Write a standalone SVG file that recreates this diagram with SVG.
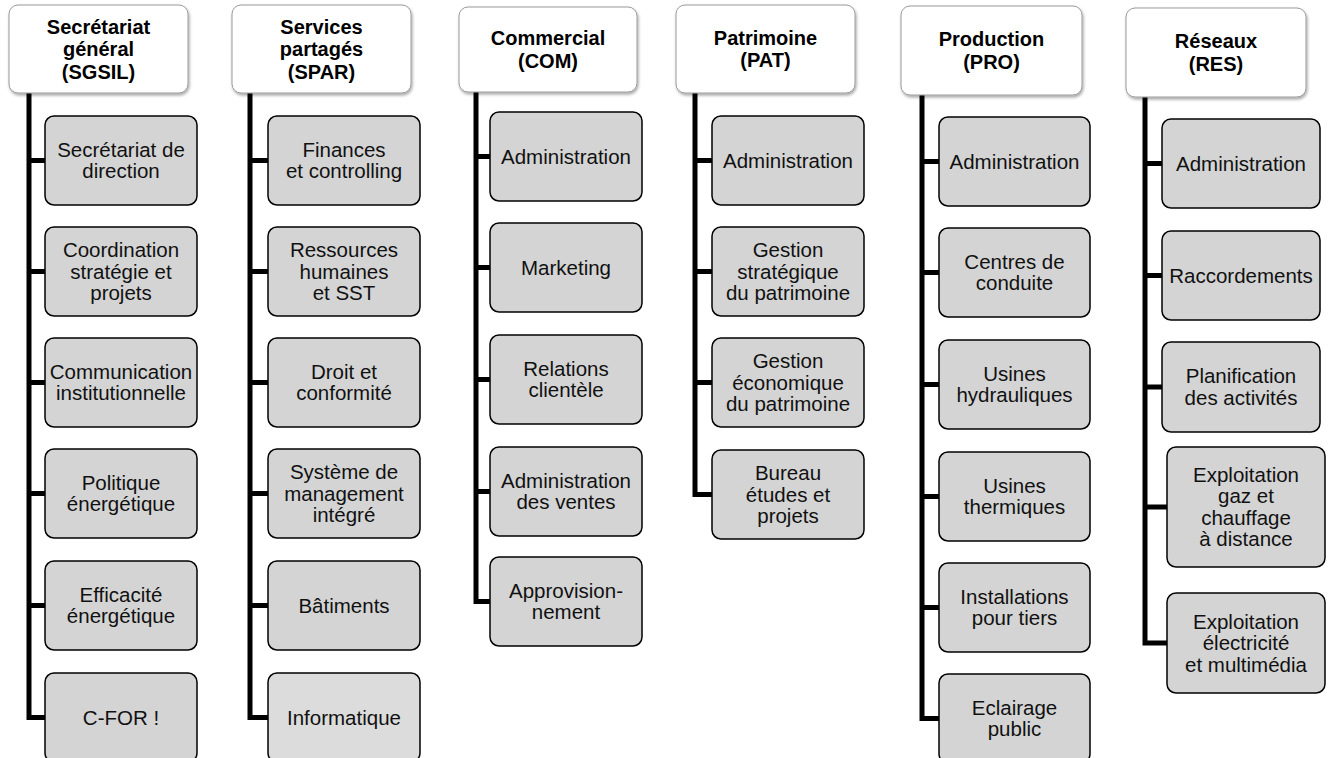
<svg xmlns="http://www.w3.org/2000/svg" width="1341" height="758" viewBox="0 0 1341 758">
<style>
.hdr{fill:#ffffff;stroke:#9a9a9a;stroke-width:1;filter:url(#sh)}
.box{fill:#d4d4d4;stroke:#000;stroke-width:1.5}
.box.lt{fill:#dcdcdc}
.h{font-family:"Liberation Sans",Arial,sans-serif;font-weight:bold;font-size:20px;fill:#000;text-anchor:middle}
.t{font-family:"Liberation Sans",Arial,sans-serif;font-size:20.5px;fill:#111;text-anchor:middle}
.c{fill:none;stroke:#000;stroke-width:5;stroke-linejoin:miter;stroke-linecap:butt}
</style>
<defs>
<filter id="sh" x="-10%" y="-10%" width="125%" height="130%">
<feDropShadow dx="1" dy="2" stdDeviation="1.6" flood-color="#000" flood-opacity="0.35"/>
</filter>
</defs>
<rect width="1341" height="758" fill="#fff"/>
<g id="connectors">
<path class="c" d="M29,93 V717.5 H45 M29,160.5 H45 M29,271.5 H45 M29,382.5 H45 M29,493.5 H45 M29,605.5 H45"/>
<path class="c" d="M250,93 V717.5 H268 M250,160.5 H268 M250,271.5 H268 M250,382.5 H268 M250,493.5 H268 M250,605.5 H268"/>
<path class="c" d="M476,92 V601.5 H490 M476,156.5 H490 M476,267.5 H490 M476,379.5 H490 M476,491.5 H490"/>
<path class="c" d="M695,93 V494.5 H712 M695,160.5 H712 M695,271.5 H712 M695,382.5 H712"/>
<path class="c" d="M922,95 V718.5 H939 M922,161.5 H939 M922,272.5 H939 M922,384.5 H939 M922,496.5 H939 M922,607.5 H939"/>
<path class="c" d="M1145,97 V643 H1167 M1145,163.5 H1162 M1145,275.5 H1162 M1145,387 H1162 M1145,507 H1167"/>
</g>

<!-- Column 1 SGSIL -->
<g id="sgsil"><rect class="hdr" x="9" y="5" width="179" height="88" rx="9"/>
<text class="h" x="98.5" y="33.5">Secrétariat</text><text class="h" x="98.5" y="56">général</text><text class="h" x="98.5" y="78.5">(SGSIL)</text></g>
<g id="sgsil-1"><rect class="box" x="45" y="116" width="152" height="89" rx="9"/>
<text class="t" x="121" y="156.8">Secrétariat de</text><text class="t" x="121" y="178.3">direction</text></g>
<g id="sgsil-2"><rect class="box" x="45" y="227" width="152" height="89" rx="9"/>
<text class="t" x="121" y="257">Coordination</text><text class="t" x="121" y="278.5">stratégie et</text><text class="t" x="121" y="300">projets</text></g>
<g id="sgsil-3"><rect class="box" x="45" y="338" width="152" height="89" rx="9"/>
<text class="t" x="121" y="378.8">Communication</text><text class="t" x="121" y="400.3">institutionnelle</text></g>
<g id="sgsil-4"><rect class="box" x="45" y="449" width="152" height="89" rx="9"/>
<text class="t" x="121" y="489.8">Politique</text><text class="t" x="121" y="511.3">énergétique</text></g>
<g id="sgsil-5"><rect class="box" x="45" y="561" width="152" height="89" rx="9"/>
<text class="t" x="121" y="601.8">Efficacité</text><text class="t" x="121" y="623.3">énergétique</text></g>
<g id="sgsil-6"><rect class="box" x="45" y="673" width="152" height="89" rx="9"/>
<text class="t" x="121" y="724.5">C-FOR !</text></g>

<!-- Column 2 SPAR -->
<g id="spar"><rect class="hdr" x="232" y="5" width="179" height="88" rx="9"/>
<text class="h" x="321.5" y="33.5">Services</text><text class="h" x="321.5" y="56">partagés</text><text class="h" x="321.5" y="78.5">(SPAR)</text></g>
<g id="spar-1"><rect class="box" x="268" y="116" width="152" height="89" rx="9"/>
<text class="t" x="344" y="156.8">Finances</text><text class="t" x="344" y="178.3">et controlling</text></g>
<g id="spar-2"><rect class="box" x="268" y="227" width="152" height="89" rx="9"/>
<text class="t" x="344" y="257">Ressources</text><text class="t" x="344" y="278.5">humaines</text><text class="t" x="344" y="300">et SST</text></g>
<g id="spar-3"><rect class="box" x="268" y="338" width="152" height="89" rx="9"/>
<text class="t" x="344" y="378.8">Droit et</text><text class="t" x="344" y="400.3">conformité</text></g>
<g id="spar-4"><rect class="box" x="268" y="449" width="152" height="89" rx="9"/>
<text class="t" x="344" y="479">Système de</text><text class="t" x="344" y="500.5">management</text><text class="t" x="344" y="522">intégré</text></g>
<g id="spar-5"><rect class="box" x="268" y="561" width="152" height="89" rx="9"/>
<text class="t" x="344" y="612.5">Bâtiments</text></g>
<g id="spar-6"><rect class="box lt" x="268" y="673" width="152" height="89" rx="9"/>
<text class="t" x="344" y="724.5">Informatique</text></g>

<!-- Column 3 COM -->
<g id="com"><rect class="hdr" x="459" y="7" width="178" height="85" rx="9"/>
<text class="h" x="548" y="45.2">Commercial</text><text class="h" x="548" y="67.7">(COM)</text></g>
<g id="com-1"><rect class="box" x="490" y="112" width="152" height="89" rx="9"/>
<text class="t" x="566" y="163.5">Administration</text></g>
<g id="com-2"><rect class="box" x="490" y="223" width="152" height="89" rx="9"/>
<text class="t" x="566" y="274.5">Marketing</text></g>
<g id="com-3"><rect class="box" x="490" y="335" width="152" height="89" rx="9"/>
<text class="t" x="566" y="375.8">Relations</text><text class="t" x="566" y="397.3">clientèle</text></g>
<g id="com-4"><rect class="box" x="490" y="447" width="152" height="89" rx="9"/>
<text class="t" x="566" y="487.8">Administration</text><text class="t" x="566" y="509.3">des ventes</text></g>
<g id="com-5"><rect class="box" x="490" y="557" width="152" height="89" rx="9"/>
<text class="t" x="566" y="597.8">Approvision-</text><text class="t" x="566" y="619.3">nement</text></g>

<!-- Column 4 PAT -->
<g id="pat"><rect class="hdr" x="676" y="5" width="179" height="88" rx="9"/>
<text class="h" x="765.5" y="44.7">Patrimoine</text><text class="h" x="765.5" y="67.2">(PAT)</text></g>
<g id="pat-1"><rect class="box" x="712" y="116" width="152" height="89" rx="9"/>
<text class="t" x="788" y="167.5">Administration</text></g>
<g id="pat-2"><rect class="box" x="712" y="227" width="152" height="89" rx="9"/>
<text class="t" x="788" y="257">Gestion</text><text class="t" x="788" y="278.5">stratégique</text><text class="t" x="788" y="300">du patrimoine</text></g>
<g id="pat-3"><rect class="box" x="712" y="338" width="152" height="89" rx="9"/>
<text class="t" x="788" y="368">Gestion</text><text class="t" x="788" y="389.5">économique</text><text class="t" x="788" y="411">du patrimoine</text></g>
<g id="pat-4"><rect class="box" x="712" y="450" width="152" height="89" rx="9"/>
<text class="t" x="788" y="480">Bureau</text><text class="t" x="788" y="501.5">études et</text><text class="t" x="788" y="523">projets</text></g>

<!-- Column 5 PRO -->
<g id="pro"><rect class="hdr" x="901" y="6" width="181" height="89" rx="9"/>
<text class="h" x="991.5" y="46.2">Production</text><text class="h" x="991.5" y="68.7">(PRO)</text></g>
<g id="pro-1"><rect class="box" x="939" y="117" width="151" height="89" rx="9"/>
<text class="t" x="1014.5" y="168.5">Administration</text></g>
<g id="pro-2"><rect class="box" x="939" y="228" width="151" height="89" rx="9"/>
<text class="t" x="1014.5" y="268.8">Centres de</text><text class="t" x="1014.5" y="290.3">conduite</text></g>
<g id="pro-3"><rect class="box" x="939" y="340" width="151" height="89" rx="9"/>
<text class="t" x="1014.5" y="380.8">Usines</text><text class="t" x="1014.5" y="402.3">hydrauliques</text></g>
<g id="pro-4"><rect class="box" x="939" y="452" width="151" height="89" rx="9"/>
<text class="t" x="1014.5" y="492.8">Usines</text><text class="t" x="1014.5" y="514.3">thermiques</text></g>
<g id="pro-5"><rect class="box" x="939" y="563" width="151" height="89" rx="9"/>
<text class="t" x="1014.5" y="603.8">Installations</text><text class="t" x="1014.5" y="625.3">pour tiers</text></g>
<g id="pro-6"><rect class="box" x="939" y="674" width="151" height="89" rx="9"/>
<text class="t" x="1014.5" y="714.8">Eclairage</text><text class="t" x="1014.5" y="736.3">public</text></g>

<!-- Column 6 RES -->
<g id="res"><rect class="hdr" x="1126" y="8" width="180" height="89" rx="9"/>
<text class="h" x="1216" y="48.2">Réseaux</text><text class="h" x="1216" y="70.7">(RES)</text></g>
<g id="res-1"><rect class="box" x="1162" y="119" width="158" height="89" rx="9"/>
<text class="t" x="1241" y="170.5">Administration</text></g>
<g id="res-2"><rect class="box" x="1162" y="231" width="158" height="89" rx="9"/>
<text class="t" x="1241" y="282.5">Raccordements</text></g>
<g id="res-3"><rect class="box" x="1162" y="342" width="158" height="90" rx="9"/>
<text class="t" x="1241" y="383.3">Planification</text><text class="t" x="1241" y="404.8">des activités</text></g>
<g id="res-4"><rect class="box" x="1167" y="447" width="158" height="120" rx="9"/>
<text class="t" x="1246" y="481.8">Exploitation</text><text class="t" x="1246" y="503.3">gaz et</text><text class="t" x="1246" y="524.8">chauffage</text><text class="t" x="1246" y="546.3">à distance</text></g>
<g id="res-5"><rect class="box" x="1167" y="593" width="158" height="100" rx="9"/>
<text class="t" x="1246" y="628.5">Exploitation</text><text class="t" x="1246" y="650">électricité</text><text class="t" x="1246" y="671.5">et multimédia</text></g>
</svg>
